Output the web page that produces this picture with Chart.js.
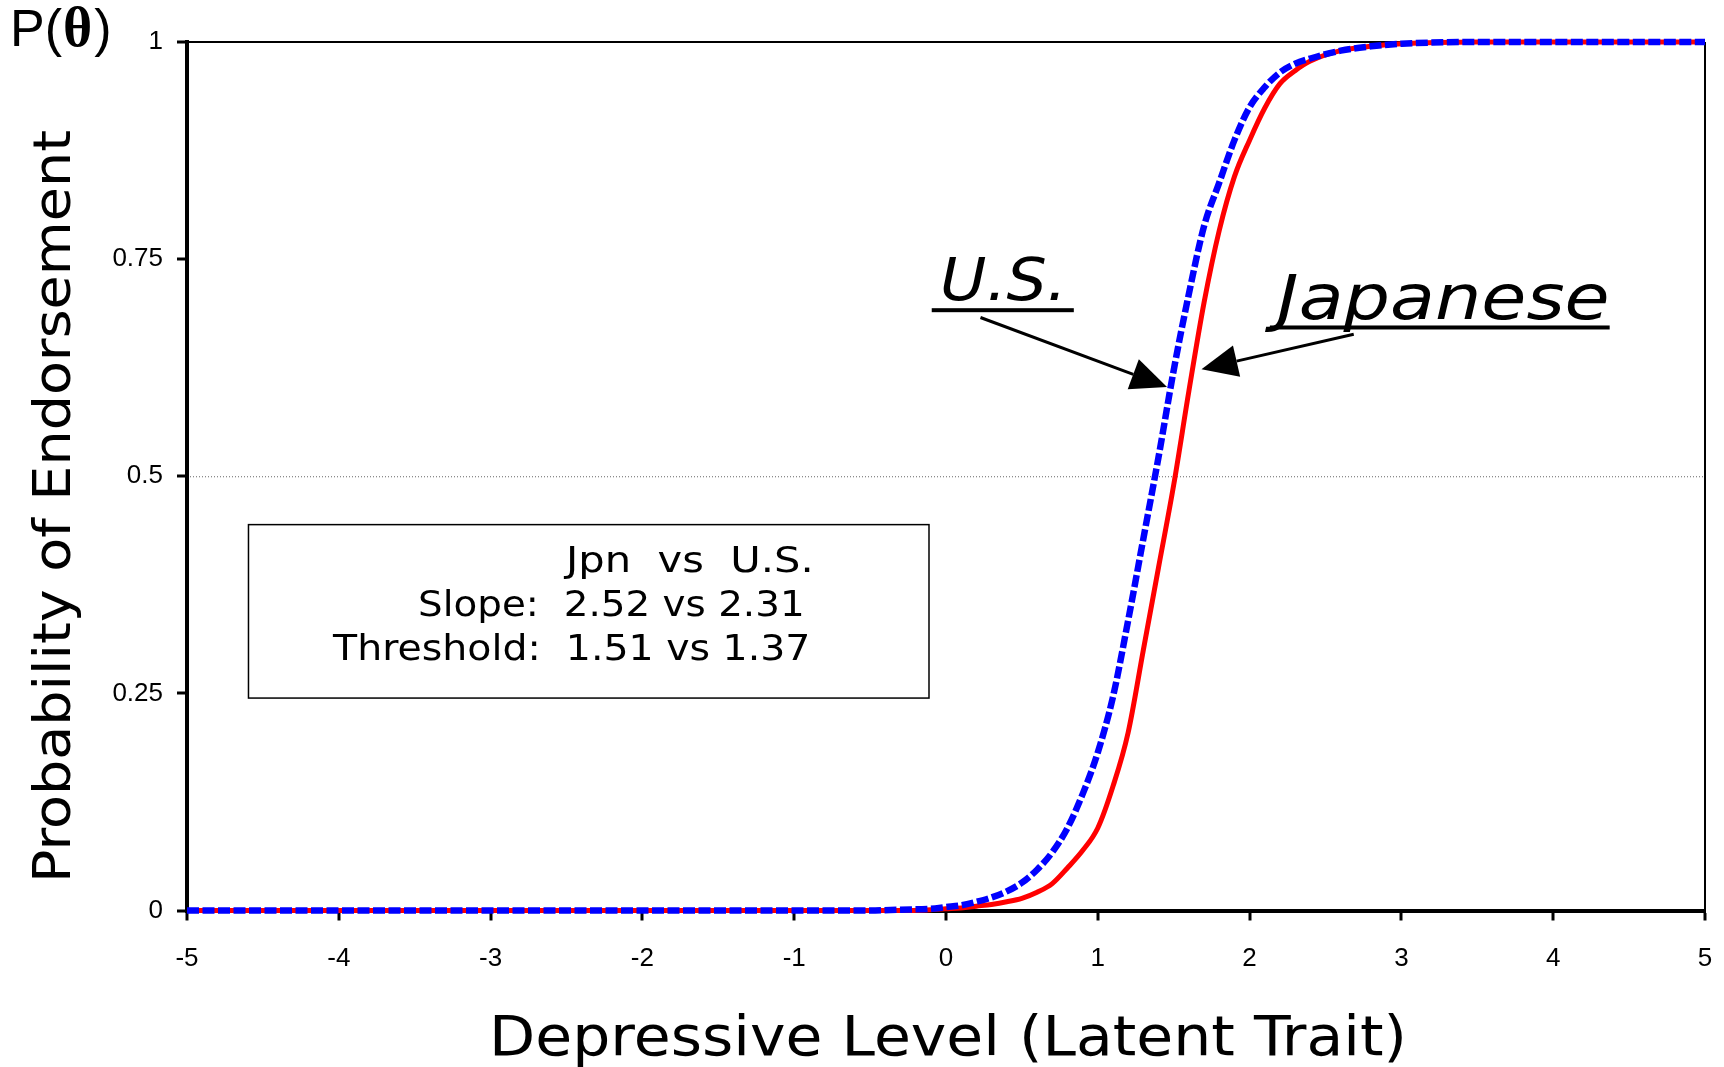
<!DOCTYPE html>
<html>
<head>
<meta charset="utf-8">
<script src="https://cdn.jsdelivr.net/npm/chart.js@4.4.1/dist/chart.umd.min.js"></script>
<style>
  html, body { margin: 0; padding: 0; background: #ffffff; }
  #wrap { width: 1724px; height: 1067px; position: relative; }
</style>
</head>
<body>
<div id="wrap"><canvas id="c" width="1724" height="1067"></canvas></div>
<script>
// Latent trait grid (theta) and item response probabilities for each group
const theta = [-5, -4, -3, -2, -1, -0.5, -0.3, -0.1, 0, 0.1, 0.2, 0.3, 0.4, 0.5, 0.6, 0.7, 0.8, 0.9,
  1.0, 1.1, 1.2, 1.3, 1.4, 1.5, 1.6, 1.7, 1.8, 1.9, 2.0, 2.1, 2.2, 2.3, 2.4, 2.6, 2.8, 3.0, 3.5, 4, 4.5, 5];
const jpnProb = [0, 0, 0, 0, 0, 0, 0, 0.001, 0.002, 0.003, 0.005, 0.007, 0.010, 0.014, 0.021, 0.031, 0.049, 0.069,
  0.095, 0.143, 0.205, 0.300, 0.395, 0.490, 0.598, 0.700, 0.783, 0.845, 0.887, 0.924, 0.952, 0.967, 0.978, 0.990, 0.995, 0.998, 1, 1, 1, 1];
const usProb = [0, 0, 0, 0, 0, 0, 0.001, 0.002, 0.004, 0.006, 0.010, 0.015, 0.022, 0.032, 0.047, 0.067, 0.095, 0.134,
  0.182, 0.246, 0.334, 0.428, 0.522, 0.622, 0.710, 0.788, 0.838, 0.887, 0.925, 0.948, 0.965, 0.975, 0.981, 0.990, 0.995, 0.998, 1, 1, 1, 1];

// Axis tick values
const xTickValues = [-5, -4, -3, -2, -1, 0, 1, 2, 3, 4, 5];
const yTickValues = [0, 0.25, 0.5, 0.75, 1];

// Text
const seriesNames = ['Japanese', 'U.S.'];
const xTitle = 'Depressive Level (Latent Trait)';
const yTitle = 'Probability of Endorsement';
const statLines = ['Jpn  vs  U.S.', 'Slope:  2.52 vs 2.31', 'Threshold:  1.51 vs 1.37'];

const SANS = '"DejaVu Sans", Verdana, sans-serif';

// Draw text starting at x with its width stretched to a given span
function spanText(ctx, text, x, y, width, font) {
  ctx.save();
  ctx.font = font;
  ctx.textAlign = 'left';
  ctx.textBaseline = 'alphabetic';
  const w = ctx.measureText(text).width;
  ctx.translate(x, y);
  ctx.scale(width / w, 1);
  ctx.fillText(text, 0, 0);
  ctx.restore();
}

function arrow(ctx, x0, y0, x1, y1, headLen, headHalf) {
  const ang = Math.atan2(y1 - y0, x1 - x0);
  const bx = x1 - headLen * Math.cos(ang), by = y1 - headLen * Math.sin(ang);
  ctx.beginPath();
  ctx.moveTo(x0, y0);
  ctx.lineTo(bx, by);
  ctx.stroke();
  ctx.beginPath();
  ctx.moveTo(x1, y1);
  ctx.lineTo(bx + headHalf * Math.sin(ang), by - headHalf * Math.cos(ang));
  ctx.lineTo(bx - headHalf * Math.sin(ang), by + headHalf * Math.cos(ang));
  ctx.closePath();
  ctx.fill();
}

const artwork = {
  id: 'artwork',
  beforeDatasetsDraw(chart) {
    const { ctx, chartArea: a, scales: { y } } = chart;
    const py = y.getPixelForValue(0.5);
    ctx.save();
    ctx.strokeStyle = '#666';
    ctx.lineWidth = 1;
    ctx.setLineDash([1, 2]);
    ctx.beginPath();
    ctx.moveTo(a.left + 3, py + 0.5);
    ctx.lineTo(a.right, py + 0.5);
    ctx.stroke();
    ctx.restore();
  },
  afterDraw(chart) {
    const { ctx, scales: { x, y } } = chart;
    const X = v => x.getPixelForValue(v);
    const Y = v => y.getPixelForValue(v);
    ctx.save();
    ctx.fillStyle = '#000';
    ctx.strokeStyle = '#000';

    // P(theta) label
    ctx.textBaseline = 'alphabetic';
    ctx.textAlign = 'left';
    let px = 10;
    ctx.font = '52px "Liberation Sans", Arial, sans-serif';
    ctx.fillText('P(', px, 46);
    px += ctx.measureText('P(').width;
    ctx.font = 'bold 56px "Liberation Serif", serif';
    ctx.fillText('\u03B8', px + 1, 46);
    px += ctx.measureText('\u03B8').width + 3;
    ctx.font = '52px "Liberation Sans", Arial, sans-serif';
    ctx.fillText(')', px, 46);

    // axis titles
    spanText(ctx, xTitle, 489, 1055, 918, '55px ' + SANS);
    ctx.save();
    ctx.translate(70, 883);
    ctx.rotate(-Math.PI / 2);
    spanText(ctx, yTitle, 0, 0, 753, '52px ' + SANS);
    ctx.restore();

    // parameter box
    ctx.lineWidth = 1.5;
    ctx.strokeRect(X(-4.595), Y(0.4443), X(-0.112) - X(-4.595), Y(0.2446) - Y(0.4443));
    const boxText = [
      [statLines[0], -2.503, -0.872, 0.390],
      [statLines[1], -3.478, -0.931, 0.339],
      [statLines[2], -4.038, -0.893, 0.2883]
    ];
    boxText.forEach(([t, x0, x1, yb]) => spanText(ctx, t, X(x0), Y(yb), X(x1) - X(x0), '36px ' + SANS));

    // series labels with underline and arrows
    spanText(ctx, seriesNames[1], X(-0.0395), Y(0.7027), X(0.797) - X(-0.0395), 'italic 59px ' + SANS);
    ctx.fillRect(X(-0.094), Y(0.6912) - 2, X(0.842) - X(-0.094), 4);
    spanText(ctx, seriesNames[0], X(2.181), Y(0.6816), X(4.372) - X(2.181), 'italic 62px ' + SANS);
    ctx.fillRect(X(2.134), Y(0.6713) - 2, X(4.372) - X(2.134), 4);

    ctx.lineWidth = 3;
    arrow(ctx, X(0.227), Y(0.6828), X(1.456), Y(0.6029), 36, 16);
    arrow(ctx, X(2.686), Y(0.6636), X(1.683), Y(0.6233), 36, 16);
    ctx.restore();
  }
};

const tickFont = { family: '"Liberation Sans", Arial, sans-serif', size: 26 };

new Chart(document.getElementById('c'), {
  type: 'line',
  data: {
    datasets: [
      {
        label: seriesNames[1],
        data: theta.map((t, i) => ({ x: t, y: usProb[i] })),
        borderColor: '#0000ff',
        borderWidth: 6.5,
        borderDash: [12, 3.5],
        pointRadius: 0,
        cubicInterpolationMode: 'monotone',
        clip: false,
        order: 0
      },
      {
        label: seriesNames[0],
        data: theta.map((t, i) => ({ x: t, y: jpnProb[i] })),
        borderColor: '#ff0000',
        borderWidth: 5,
        pointRadius: 0,
        cubicInterpolationMode: 'monotone',
        clip: false,
        order: 1
      }
    ]
  },
  options: {
    responsive: false,
    devicePixelRatio: 1,
    animation: false,
    layout: { padding: { top: 42, right: 19, left: 0, bottom: 0 } },
    plugins: { legend: { display: false }, tooltip: { enabled: false } },
    scales: {
      x: {
        type: 'linear',
        min: -5, max: 5,
        afterFit: s => { s.height = 156.5; s.paddingLeft = 0; s.paddingRight = 0; },
        afterBuildTicks: s => { s.ticks = xTickValues.map(v => ({ value: v })); },
        ticks: { font: tickFont, color: '#000', padding: 23, maxRotation: 0, callback: v => String(v) },
        grid: {
          drawOnChartArea: true,
          color: c => (c.tick && c.tick.value === 5 ? '#000' : 'rgba(0,0,0,0)'),
          lineWidth: 2,
          tickColor: '#000',
          tickWidth: 3,
          tickLength: 10
        },
        border: { display: true, color: '#000', width: 4 }
      },
      y: {
        type: 'linear',
        min: 0, max: 1,
        afterFit: s => { s.width = 187; s.paddingTop = 0; s.paddingBottom = 0; },
        afterBuildTicks: s => { s.ticks = yTickValues.map(v => ({ value: v })); },
        ticks: { font: tickFont, color: '#000', padding: 14, callback: v => String(v) },
        grid: {
          drawOnChartArea: true,
          color: c => (c.tick && c.tick.value === 1 ? '#000' : 'rgba(0,0,0,0)'),
          lineWidth: 2,
          tickColor: '#000',
          tickWidth: 3,
          tickLength: 10
        },
        border: { display: true, color: '#000', width: 4 }
      }
    }
  },
  plugins: [artwork]
});
</script>
</body>
</html>
